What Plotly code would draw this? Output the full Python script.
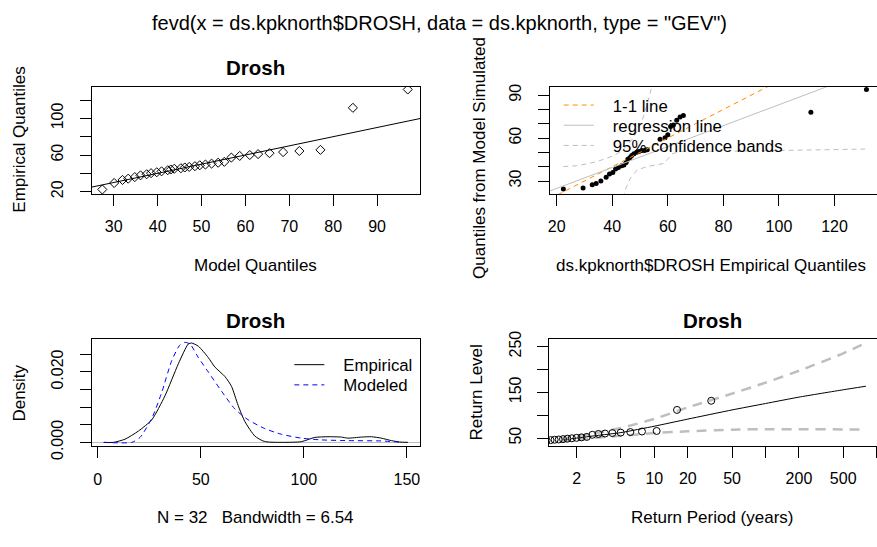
import plotly.graph_objects as go

# ---------------- data ----------------
# sorted annual maxima (empirical quantiles)
empirical = [22.4, 29.5, 32.8, 34.2, 35.9, 37.8, 39.0, 40.2, 41.2, 42.2, 43.4, 44.2,
             45.0, 45.6, 46.4, 47.0, 47.8, 48.8, 49.6, 50.6, 51.6, 52.6, 57.2, 59.0,
             60.0, 61.0, 62.0, 63.2, 64.4, 65.6, 111.5, 131.5]
# GEV model quantiles (panel 1 x)
model_q = [27.4, 30.1, 32.0, 33.3, 34.8, 36.1, 37.5, 38.5, 39.8, 40.9, 42.3, 43.0,
           43.8, 45.3, 46.2, 47.2, 48.5, 49.6, 50.9, 52.3, 53.8, 55.2, 56.8, 58.7,
           61.0, 62.9, 65.5, 68.6, 72.3, 77.1, 84.5, 97.0]
# quantiles from model simulated (panel 2 y)
sim_q = [24.4, 25.1, 27.3, 28.2, 30.0, 32.7, 34.9, 36.0, 38.3, 39.5, 40.7, 41.2,
         43.0, 45.2, 46.5, 47.9, 49.0, 50.1, 50.6, 51.3, 51.3, 51.8, 59.1, 60.2,
         62.4, 68.0, 69.1, 72.5, 74.7, 75.8, 78.1, 93.9]
# regression line of panel 2
reg_intercept = 10.2
reg_slope = 0.731
# 95% confidence bands of panel 2
band_up_x = [22.4, 27.0, 31.0, 35.0, 40.0, 43.0, 45.5, 47.5, 49.0, 50.8, 52.5, 54.5]
band_up_y = [40.1, 40.6, 42.0, 43.9, 47.3, 50.5, 55.0, 60.0, 65.0, 72.5, 83.0, 98.0]
band_lo_x = [44.0, 44.8, 46.6, 49.0, 52.6, 58.6, 61.6, 64.6, 82.5, 110.0, 131.0]
band_lo_y = [18.0, 24.4, 32.2, 37.8, 40.1, 42.3, 49.0, 50.8, 50.8, 51.5, 52.3]

# density curves (panel 3)
dens_emp_x = [3.0, 7.6, 13.2, 19.7, 26.2, 32.6, 39.1, 43.9, 45.5, 48.8, 53.6, 56.8,
              61.7, 64.9, 68.1, 71.4, 76.2, 80.2, 82.7, 90.0, 98.8, 105.3, 111.7,
              118.2, 121.4, 127.9, 132.8, 137.6, 142.5, 146.5, 150.5]
dens_emp_y = [0.0, 0.0, 0.0009, 0.0032, 0.0064, 0.0132, 0.0223, 0.0279, 0.0282,
              0.0273, 0.0241, 0.0214, 0.0187, 0.0159, 0.0105, 0.0059, 0.0018,
              0.0004, 0.0001, 0.0, 0.0002, 0.0014, 0.0016, 0.0015, 0.0012, 0.0015,
              0.0016, 0.0012, 0.0005, 0.0001, 0.0]
dens_mod_x = [2.8, 16.5, 20.5, 26.2, 31.0, 35.9, 39.9, 42.3, 44.8, 48.8, 53.6, 60.1,
              66.5, 73.0, 81.1, 89.1, 98.8, 108.5, 121.4, 137.6, 148.0]
dens_mod_y = [0.0, 0.0, 0.0014, 0.0068, 0.0141, 0.0232, 0.0277, 0.0284, 0.0279,
              0.0241, 0.0200, 0.0145, 0.0095, 0.0064, 0.0039, 0.0023, 0.0012,
              0.0007, 0.0005, 0.0004, 0.0]

# return level plot (panel 4)
ret_period = [0.286, 0.357, 0.417, 0.474, 0.530, 0.587, 0.645, 0.706, 0.770, 0.838,
              0.910, 0.989, 1.073, 1.166, 1.268, 1.381, 1.508, 1.650, 1.811, 1.997,
              2.212, 2.466, 2.770, 3.140, 3.602, 4.195, 4.983, 6.085, 7.740, 10.49,
              16.00, 32.50]
rl_T = [1.45, 2, 3, 5, 10, 20, 50, 100, 200, 500, 800]
rl_mid = [45.5, 50.0, 55.5, 62.0, 76.0, 91.5, 111.5, 125.5, 139.5, 155.5, 163.3]
rl_up = [48.5, 54.0, 61.0, 72.0, 92.0, 117.0, 147.0, 171.0, 197.0, 235.0, 258.0]
rl_lo = [42.4, 46.5, 51.0, 55.0, 61.0, 65.0, 68.5, 69.5, 69.5, 69.0, 68.5]

# tick labels
p1_xticks = [30, 40, 50, 60, 70, 80, 90]
p1_yticks = [20, 40, 60, 80, 100, 120]
p1_ylabels = ["20", "", "60", "", "100", ""]
p2_xticks = [20, 40, 60, 80, 100, 120]
p2_yticks = [30, 40, 50, 60, 70, 80, 90]
p2_ylabels = ["30", "", "", "60", "", "", "90"]
p3_xticks = [0, 50, 100, 150]
p3_yticks = [0.0, 0.005, 0.010, 0.015, 0.020, 0.025]
p3_ylabels = ["0.000", "", "", "", "0.020", ""]
p4_xticks = [2, 5, 10, 20, 50, 100, 200, 500, 1000]
p4_xlabels = ["2", "5", "10", "20", "50", "", "200", "500", ""]
p4_yticks = [50, 100, 150, 200, 250]
p4_ylabels = ["50", "", "150", "", "250"]

# ---------------- layout helpers ----------------
W, H = 877, 547
FONT = "Liberation Sans, Arial, sans-serif"
TICK_SIZE = 16
LAB_SIZE = 17
LEG_SIZE = 16.8


def fx(p):
    return p / W


def fy(p):
    return 1 - p / H


P1_XR = [25.0, 99.8]
P1_YR = [17.6, 134.7]
P2_XR = [17.5, 135.3]
P2_YR = [21.0, 96.0]
P3_XR = [-2.9, 156.4]
P3_YR = [-0.00117, 0.0294]
P4_XR = [0.053, 3.003]
P4_YR = [33.8, 266.8]


def xax(domain, anchor, rng, tickvals, ticktext=None, mirror=True, typ="linear"):
    d = dict(domain=domain, anchor=anchor, range=rng, type=typ,
             tickmode="array", tickvals=tickvals,
             showline=True, linecolor="black", linewidth=1, mirror=mirror,
             ticks="outside", ticklen=11, tickwidth=1, tickcolor="black",
             showgrid=False, zeroline=False, ticklabelstandoff=7,
             tickfont=dict(family=FONT, size=TICK_SIZE, color="black"))
    if ticktext is not None:
        d["ticktext"] = ticktext
    return d


def yax(domain, anchor, rng, tickvals, ticktext, mirror=True):
    return dict(domain=domain, anchor=anchor, range=rng,
                tickmode="array", tickvals=tickvals, ticktext=ticktext,
                tickangle=-90,
                showline=True, linecolor="black", linewidth=1, mirror=mirror,
                ticks="outside", ticklen=11, tickwidth=1, tickcolor="black",
                showgrid=False, zeroline=False, ticklabelstandoff=10,
                tickfont=dict(family=FONT, size=TICK_SIZE, color="black"))


fig = go.Figure()

# ---- panel 1: QQ plot model vs empirical ----
fig.add_trace(go.Scatter(x=model_q, y=empirical, mode="markers", xaxis="x", yaxis="y",
                         marker=dict(symbol="diamond-open", size=7, color="black",
                                     line=dict(width=1, color="black")),
                         showlegend=False, hoverinfo="skip"))
fig.add_trace(go.Scatter(x=P1_XR, y=P1_XR, mode="lines", xaxis="x", yaxis="y",
                         line=dict(color="black", width=1), showlegend=False,
                         hoverinfo="skip"))

# ---- panel 2: simulated quantiles ----
fig.add_trace(go.Scatter(x=empirical, y=sim_q, mode="markers", xaxis="x2", yaxis="y2",
                         marker=dict(symbol="circle", size=5, color="black"),
                         showlegend=False, hoverinfo="skip"))
fig.add_trace(go.Scatter(x=P2_XR, y=P2_XR, mode="lines", xaxis="x2", yaxis="y2",
                         line=dict(color="#FF8C00", width=1, dash="5px,4px"),
                         name="\u00a0\u00a0\u00a01-1 line", legend="legend",
                         hoverinfo="skip"))
fig.add_trace(go.Scatter(x=P2_XR, y=[reg_intercept + reg_slope * v for v in P2_XR],
                         mode="lines", xaxis="x2", yaxis="y2",
                         line=dict(color="#BEBEBE", width=1),
                         name="\u00a0\u00a0\u00a0regression line", legend="legend2",
                         hoverinfo="skip"))
fig.add_trace(go.Scatter(x=band_up_x, y=band_up_y, mode="lines", xaxis="x2", yaxis="y2",
                         line=dict(color="#BEBEBE", width=1, dash="5px,4px"),
                         name="\u00a0\u00a0\u00a095% confidence bands", legend="legend3",
                         hoverinfo="skip"))
fig.add_trace(go.Scatter(x=band_lo_x, y=band_lo_y, mode="lines", xaxis="x2", yaxis="y2",
                         line=dict(color="#BEBEBE", width=1, dash="5px,4px"),
                         showlegend=False, hoverinfo="skip"))

# ---- panel 3: densities ----
fig.add_trace(go.Scatter(x=dens_emp_x, y=dens_emp_y, mode="lines", xaxis="x3", yaxis="y3",
                         line=dict(color="black", width=1, shape="spline", smoothing=0.6),
                         name="\u00a0\u00a0\u00a0Empirical", legend="legend4",
                         hoverinfo="skip"))
fig.add_trace(go.Scatter(x=dens_mod_x, y=dens_mod_y, mode="lines", xaxis="x3", yaxis="y3",
                         line=dict(color="#0000FF", width=1, dash="5px,4px",
                                   shape="spline", smoothing=0.6),
                         name="\u00a0\u00a0\u00a0Modeled", legend="legend5",
                         hoverinfo="skip"))

# ---- panel 4: return levels ----
fig.add_trace(go.Scatter(x=rl_T, y=rl_mid, mode="lines", xaxis="x4", yaxis="y4",
                         line=dict(color="black", width=1, shape="spline", smoothing=0.5),
                         showlegend=False, hoverinfo="skip"))
fig.add_trace(go.Scatter(x=rl_T, y=rl_up, mode="lines", xaxis="x4", yaxis="y4",
                         line=dict(color="#BEBEBE", width=2.5, dash="10px,7px",
                                   shape="spline", smoothing=0.5),
                         showlegend=False, hoverinfo="skip"))
fig.add_trace(go.Scatter(x=rl_T, y=rl_lo, mode="lines", xaxis="x4", yaxis="y4",
                         line=dict(color="#BEBEBE", width=2.5, dash="10px,7px",
                                   shape="spline", smoothing=0.5),
                         showlegend=False, hoverinfo="skip"))
fig.add_trace(go.Scatter(x=ret_period, y=empirical, mode="markers", xaxis="x4", yaxis="y4",
                         marker=dict(symbol="circle-open", size=7, color="black",
                                     line=dict(width=1, color="black")),
                         showlegend=False, hoverinfo="skip", cliponaxis=True))


def leg(px, py):
    return dict(x=fx(px), y=fy(py), xanchor="left", yanchor="middle",
                bgcolor="rgba(0,0,0,0)", borderwidth=0, itemwidth=30,
                tracegroupgap=0, itemclick=False, itemdoubleclick=False,
                font=dict(family=FONT, size=LEG_SIZE, color="black"))


def ann(text, px, py, size=LAB_SIZE, angle=0, bold=False):
    t = "<b>" + text + "</b>" if bold else text
    return dict(text=t, x=fx(px), y=fy(py), xref="paper", yref="paper",
                xanchor="center", yanchor="middle", showarrow=False, textangle=angle,
                font=dict(family=FONT, size=size, color="black"))


annotations = [
    ann('fevd(x = ds.kpknorth$DROSH, data = ds.kpknorth, type = "GEV")', 439, 16, size=20),
    ann("Drosh", 254, 62, size=20.5, bold=True),
    ann("Drosh", 254, 325, size=20.5, bold=True),
    ann("Drosh", 712, 325, size=20.5, bold=True),
    ann("Model Quantiles", 254, 268),
    ann("Empirical Quantiles", 18, 137, angle=-90),
    ann("ds.kpknorth$DROSH Empirical Quantiles", 711, 268),
    ann("Quantiles from Model Simulated", 478, 156, angle=-90),
    ann("N = 32\u00a0\u00a0 Bandwidth = 6.54", 254, 530),
    ann("Density", 18, 400, angle=-90),
    ann("Return Period (years)", 712, 530),
    ann("Return Level", 476, 400, angle=-90),
]

fig.update_layout(
    width=W, height=H, margin=dict(l=0, r=0, t=0, b=0, pad=0),
    paper_bgcolor="white", plot_bgcolor="white",
    font=dict(family=FONT, size=LAB_SIZE, color="black"),
    showlegend=True,
    xaxis=xax([fx(90), fx(419)], "y", P1_XR, p1_xticks),
    yaxis=yax([fy(193.3), fy(81.7)], "x", P1_YR, p1_yticks, p1_ylabels),
    xaxis2=xax([fx(549), 1.0], "y2", P2_XR, p2_xticks),
    yaxis2=yax([fy(193.3), fy(81.7)], "x2", P2_YR, p2_yticks, p2_ylabels, mirror=False),
    xaxis3=xax([fx(90), fx(419)], "y3", P3_XR, p3_xticks),
    yaxis3=dict(yax([fy(456), fy(344)], "x3", P3_YR, p3_yticks, p3_ylabels),
                zeroline=True, zerolinecolor="#BEBEBE", zerolinewidth=1),
    xaxis4=xax([fx(548.3), 1.0], "y4", P4_XR, p4_xticks, p4_xlabels, typ="log"),
    yaxis4=yax([fy(455), fy(344)], "x4", P4_YR, p4_yticks, p4_ylabels, mirror=False),
    legend=leg(558, 101),
    legend2=leg(558, 122),
    legend3=leg(558, 143),
    legend4=leg(288, 371),
    legend5=leg(288, 392),
    annotations=annotations,
)

fig.write_html("out.html")
